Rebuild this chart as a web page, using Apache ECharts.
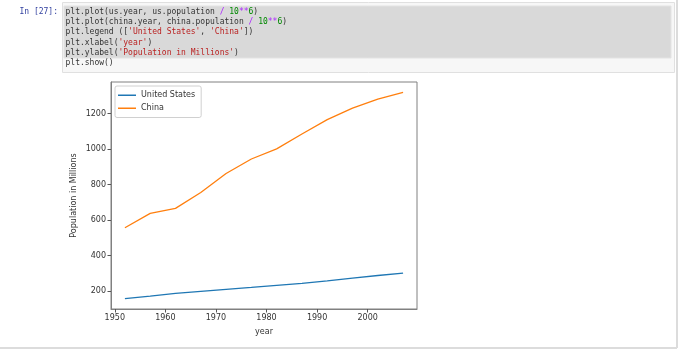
<!DOCTYPE html>
<html>
<head>
<meta charset="utf-8">
<script src="https://cdn.jsdelivr.net/npm/echarts@6/dist/echarts.min.js"></script>
<style>
  html, body { margin: 0; padding: 0; background: #fff; }
  #chart { width: 680px; height: 350px; }
</style>
</head>
<body>
<div id="chart"></div>
<script>
// ---- data ----
var years = [1952, 1957, 1962, 1967, 1972, 1977, 1982, 1987, 1992, 1997, 2002, 2007];
var usPopulation = [157.6, 172.0, 186.5, 198.7, 209.9, 220.2, 232.2, 242.8, 256.9, 272.9, 287.7, 301.1];
var chinaPopulation = [556.3, 637.4, 665.8, 754.6, 862.0, 943.5, 1000.3, 1084.0, 1165.0, 1230.1, 1280.4, 1318.7];
var seriesNames = ['United States', 'China'];
var xTicks = [1950, 1960, 1970, 1980, 1990, 2000];
var yTicks = [200, 400, 600, 800, 1000, 1200];
var xLabel = 'year';
var yLabel = 'Population in Millions';
var promptText = 'In [27]:';
var codeLines = [
  [['n', 'plt.plot(us.year, us.population '], ['o', '/'], ['n', ' '], ['g', '10'], ['o', '**'], ['g', '6'], ['n', ')']],
  [['n', 'plt.plot(china.year, china.population '], ['o', '/'], ['n', ' '], ['g', '10'], ['o', '**'], ['g', '6'], ['n', ')']],
  [['n', 'plt.legend (['], ['s', "'United States'"], ['n', ', '], ['s', "'China'"], ['n', '])']],
  [['n', 'plt.xlabel('], ['s', "'year'"], ['n', ')']],
  [['n', 'plt.ylabel('], ['s', "'Population in Millions'"], ['n', ')']],
  [['n', 'plt.show()']]
];

function pairs(xs, ys) { return xs.map(function (x, i) { return [x, ys[i]]; }); }

var mono = '"DejaVu Sans Mono", "Liberation Mono", monospace';
var sans = '"DejaVu Sans", sans-serif';

var graphics = [
  // notebook chrome
  { type: 'rect', shape: { x: 62.5, y: 2.5, width: 612, height: 70 }, style: { fill: '#f7f7f7', stroke: '#e0e0e0', lineWidth: 1 }, z: 0 },
  { type: 'rect', shape: { x: 64, y: 6, width: 607, height: 52 }, style: { fill: '#d9d9d9', stroke: '#e3e3e3', lineWidth: 1 }, z: 1 },
  { type: 'line', shape: { x1: 677, y1: 0, x2: 677, y2: 348 }, style: { stroke: '#dcdcdc', lineWidth: 2 }, z: 1 },
  { type: 'line', shape: { x1: 0, y1: 348, x2: 677, y2: 348 }, style: { stroke: '#dcdcdc', lineWidth: 2 }, z: 1 },
  { type: 'text', x: 58, y: 12, style: { text: promptText, font: '8px ' + mono, fill: '#303f9f', align: 'right', verticalAlign: 'middle' }, z: 2 }
];
var lineYs = [11.7, 22.2, 32.4, 42.6, 52.8, 63.2];
var colorMap = { n: '#333333', o: '#aa22ff', g: '#008800', s: '#ba2121' };
codeLines.forEach(function (segs, i) {
  var txt = segs.map(function (s) { return '{' + s[0] + '|' + s[1] + '}'; }).join('');
  var rich = {};
  Object.keys(colorMap).forEach(function (k) { rich[k] = { fill: colorMap[k], font: '8px ' + mono }; });
  graphics.push({ type: 'text', x: 65.5, y: lineYs[i], style: { text: txt, rich: rich, font: '8px ' + mono, verticalAlign: 'middle', align: 'left' }, z: 2 });
});

var chart = echarts.init(document.getElementById('chart'), null, { renderer: 'canvas' });
chart.setOption({
  animation: false,
  backgroundColor: '#ffffff',
  grid: { left: 111, top: 82, right: 263, bottom: 41, show: true, borderColor: '#808080', borderWidth: 1, backgroundColor: 'transparent' },
  legend: {
    data: seriesNames,
    orient: 'vertical',
    left: 115, top: 86,
    backgroundColor: '#fff',
    borderColor: '#d0d0d0', borderWidth: 1, borderRadius: 2,
    padding: [3, 6, 3, 3],
    itemWidth: 18, itemHeight: 1.5, itemGap: 0.5,
    icon: 'rect',
    textStyle: { fontSize: 8, fontFamily: sans, color: '#333', lineHeight: 12.5 }
  },
  xAxis: {
    type: 'value', min: 1949.25, max: 2009.75,
    name: xLabel, nameLocation: 'middle', nameGap: 19,
    nameTextStyle: { fontSize: 8, fontFamily: sans, color: '#333' },
    splitLine: { show: false },
    axisLine: { show: true, lineStyle: { color: '#808080', width: 1 } },
    axisTick: { show: true, length: 3.5, lineStyle: { color: '#555' }, customValues: xTicks },
    axisLabel: { fontSize: 8, fontFamily: sans, color: '#333', margin: 5, customValues: xTicks, formatter: function (v) { return String(v); } }
  },
  yAxis: {
    type: 'value', min: 99, max: 1377,
    name: yLabel, nameLocation: 'middle', nameGap: 33, nameRotate: 90,
    nameTextStyle: { fontSize: 8, fontFamily: sans, color: '#333' },
    splitLine: { show: false },
    axisLine: { show: true, lineStyle: { color: '#808080', width: 1 } },
    axisTick: { show: true, length: 3.5, lineStyle: { color: '#555' }, customValues: yTicks },
    axisLabel: { fontSize: 8, fontFamily: sans, color: '#333', margin: 5, customValues: yTicks, formatter: function (v) { return String(v); } }
  },
  series: [
    { name: seriesNames[0], type: 'line', data: pairs(years, usPopulation), showSymbol: false, color: '#1f77b4', lineStyle: { width: 1.3, color: '#1f77b4' } },
    { name: seriesNames[1], type: 'line', data: pairs(years, chinaPopulation), showSymbol: false, color: '#ff7f0e', lineStyle: { width: 1.3, color: '#ff7f0e' } }
  ],
  graphic: graphics
});
</script>
</body>
</html>
